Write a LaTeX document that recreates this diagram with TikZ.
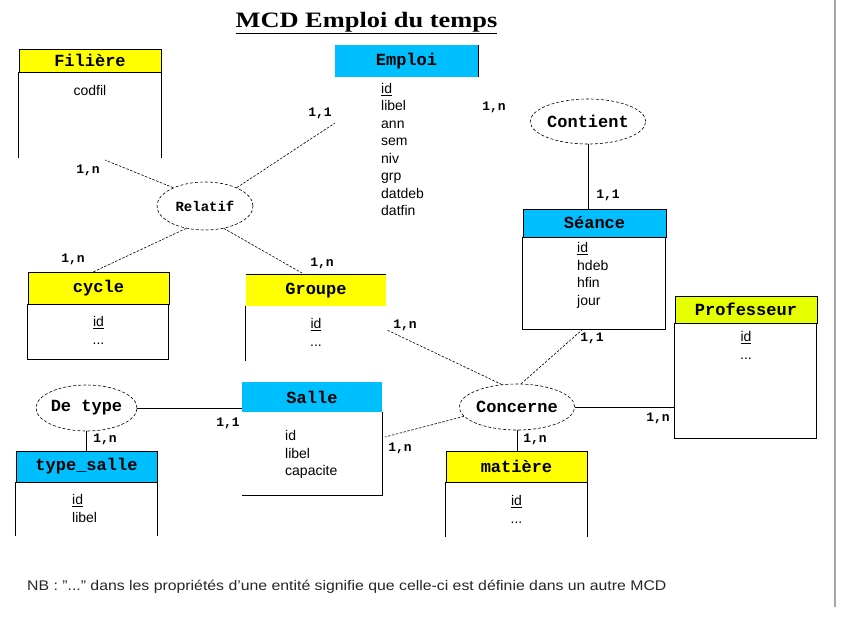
\documentclass[tikz,border=0pt]{standalone}
\usepackage{fontspec}
\setmainfont{Liberation Sans}
\newfontfamily\hdrfam{Liberation Mono}
\newfontfamily\titlefam{Liberation Serif}
\usetikzlibrary{shapes.geometric}
\definecolor{ylw}{RGB}{255,255,0}
\definecolor{ylwg}{RGB}{230,255,0}
\definecolor{blu}{RGB}{0,191,255}
\tikzset{
  hdr/.style={draw=black, line width=0.9pt, inner sep=0pt, font=\hdrfam\bfseries\fontsize{17}{17}\selectfont},
  hdrnb/.style={inner sep=0pt, font=\hdrfam\bfseries\fontsize{17}{17}\selectfont},
  rel/.style={ellipse, draw, dash pattern=on 3pt off 2pt, line width=0.6pt, inner sep=0pt,
    minimum width=96pt, minimum height=46pt, font=\hdrfam\bfseries\fontsize{17}{17}\selectfont},
  attr/.style={inner sep=0pt, font=\fontsize{14}{17.5}\selectfont},
  card/.style={inner sep=0pt, font=\hdrfam\bfseries\fontsize{13}{13}\selectfont},
  body/.style={line width=0.9pt},
  lnk/.style={line width=0.6pt, dash pattern=on 2.5pt off 1.5pt},
  slnk/.style={line width=0.8pt}
}
\begin{document}
\begin{tikzpicture}[x=1pt,y=-1pt]
\useasboundingbox (0,0) rectangle (857,619);
\draw[gray!70, line width=1.5pt] (835,0) -- (835,607);

\node[font=\titlefam\bfseries\fontsize{22}{22}\selectfont, anchor=base, inner sep=0pt] (title) at (366.5,27) {\scalebox{1.2}[1]{\underline{MCD Emploi du temps}}};

% Filiere
\node[hdr, fill=ylw, minimum width=142pt, minimum height=23pt] (filiere) at (90,60.5) {Filière};
\draw[body] (filiere.south west) -- ++(0,86) (filiere.south east) -- ++(0,86);
\node[attr] (filattr) at (90,90) {codfil};

% Emploi
\node[hdrnb, fill=blu, minimum width=143pt, minimum height=32pt] (emploi) at (406.5,61) {Emploi};
\draw[body] (emploi.north east) -- (emploi.south east);
\node[attr, anchor=north west, align=left] (empattr) at (381,83) {\underline{id}\\libel\\ann\\sem\\niv\\grp\\datdeb\\datfin};

% Seance
\node[hdr, fill=blu, minimum width=143pt, minimum height=28pt] (seance) at (594.5,223) {Séance};
\draw[body] (seance.south west) rectangle ++(143,92);
\node[attr, anchor=north west, align=left] (seaattr) at (577,242.5) {\underline{id}\\hdeb\\hfin\\jour};

% cycle
\node[hdr, fill=ylw, minimum width=141pt, minimum height=32pt] (cycle) at (98.5,288) {cycle};
\draw[body] (cycle.south west) rectangle ++(141,55);
\node[attr, align=center, anchor=north] (cycattr) at (98.5,316.5) {\underline{id}\\...};

% Groupe
\node[hdrnb, fill=ylw, minimum width=140pt, minimum height=31pt] (groupe) at (316,290.5) {Groupe};
\draw[body] (groupe.north west) -- (groupe.north east);
\draw[body] (groupe.south west) -- ++(0,55);
\node[attr, align=center, anchor=north] (grpattr) at (316,318.5) {\underline{id}\\...};

% Salle
\node[hdrnb, fill=blu, minimum width=140pt, minimum height=30pt] (salle) at (312,397) {Salle};
\draw[body] (salle.south east) -- ++(0,83) -- ++(-140,0);
\node[attr, anchor=north west, align=left] (salattr) at (285,430.5) {id\\libel\\capacite};

% type_salle
\node[hdr, fill=blu, minimum width=141pt, minimum height=31pt] (typesalle) at (86.5,466.5) {type\_salle};
\draw[body] (typesalle.south west) -- ++(0,54) (typesalle.south east) -- ++(0,54);
\node[attr, anchor=north west, align=left] (tsattr) at (72,494.5) {\underline{id}\\libel};

% matiere
\node[hdr, fill=ylw, minimum width=141pt, minimum height=31pt] (matiere) at (516.5,466.5) {matière};
\draw[body] (matiere.south west) -- ++(0,55) (matiere.south east) -- ++(0,55);
\node[attr, align=center, anchor=north] (matattr) at (516.5,495.5) {\underline{id}\\...};

% Professeur
\node[hdr, fill=ylwg, minimum width=142pt, minimum height=27pt] (prof) at (746,309.5) {Professeur};
\draw[body] (prof.south west) rectangle ++(142,115);
\node[attr, align=center, anchor=north] (profattr) at (746,331.5) {\underline{id}\\...};

% relations
\node[rel, font=\hdrfam\bfseries\fontsize{14}{14}\selectfont, minimum height=48pt] (relatif) at (205,206) {Relatif};
\node[rel, minimum height=45pt] (contient) at (588,121.5) {Contient};
\node[rel] (detype) at (86.5,408) {De type};
\node[rel] (concerne) at (517,407) {Concerne};

% free ends
\coordinate (filE) at (105,160);
\coordinate (empE) at (335,123);
\coordinate (cycE) at (93,272);
\coordinate (grpE) at (302,273);
\coordinate (seaE) at (583,329);
\coordinate (grpE2) at (387,330);
\coordinate (salE) at (385,437);

% connectors
\draw[lnk] (relatif.150) -- (filE);
\draw[lnk] (relatif.30) -- (empE);
\draw[lnk] (relatif.230) -- (cycE);
\draw[lnk] (relatif.310) -- (grpE);
\draw[slnk] (contient.south) -- (contient.south |- seance.north);
\draw[lnk] (concerne.80) -- (seaE);
\draw[lnk] (concerne.124) -- (grpE2);
\draw[lnk] (concerne.190) -- (salE);
\draw[slnk] (concerne.east) -- (concerne.east -| prof.west);
\draw[slnk] (concerne.south) -- (concerne.south |- matiere.north);
\draw[slnk] (detype.east) -- (detype.east -| salle.west);
\draw[slnk] (detype.south) -- (detype.south |- typesalle.north);

% cardinalities
\node[card] (c1) at (88,170) {1,n};
\node[card] (c2) at (320,113) {1,1};
\node[card] (c3) at (73,259) {1,n};
\node[card] (c4) at (322,263) {1,n};
\node[card] (c5) at (494,107) {1,n};
\node[card] (c6) at (608,195) {1,1};
\node[card] (c7) at (592,338) {1,1};
\node[card] (c8) at (405,325) {1,n};
\node[card] (c9) at (658,418) {1,n};
\node[card] (c10) at (400,448) {1,n};
\node[card] (c11) at (535,439) {1,n};
\node[card] (c12) at (228,423) {1,1};
\node[card] (c13) at (105,439) {1,n};

\node[anchor=base west, inner sep=0pt, text=black!85, font=\fontsize{14}{14}\selectfont] (note) at (27,590) {\scalebox{1.13}[1]{NB : \symbol{34}...\symbol{34} dans les propriétés d'une entité signifie que celle-ci est définie dans un autre MCD}};
\end{tikzpicture}
\end{document}
